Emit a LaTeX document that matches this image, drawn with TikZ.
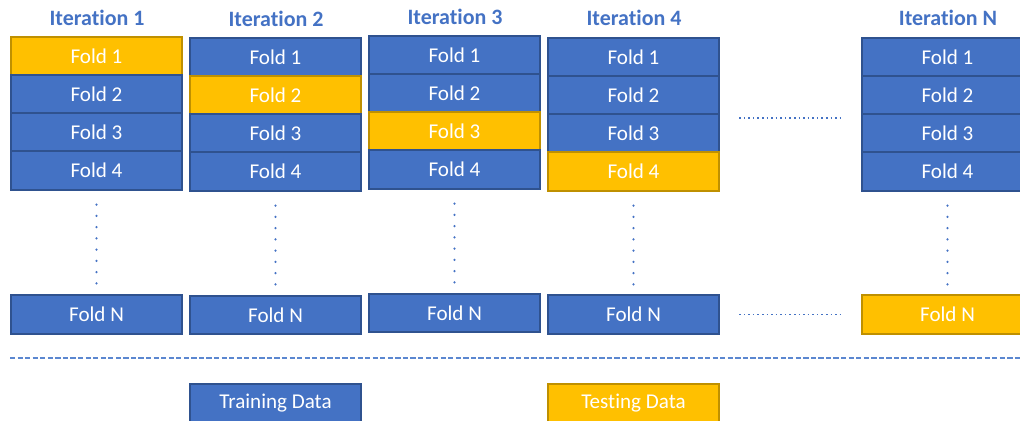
\documentclass[tikz,border=0pt]{standalone}
\usepackage{fontspec}
\setmainfont{Carlito}[Ligatures=NoCommon]
\definecolor{foldblue}{HTML}{4472C4}
\definecolor{foldedge}{HTML}{2F528F}
\definecolor{testyellow}{HTML}{FFC000}
\definecolor{testedge}{HTML}{BF9000}
\definecolor{sepblue}{HTML}{5B87D0}
\tikzset{
  fold/.style={draw=foldedge,fill=foldblue,text=white,line width=1pt,minimum width=3.42cm,minimum height=0.77cm,inner sep=0pt,font=\fontsize{12}{14}\selectfont},
  test/.style={fold,draw=testedge,fill=testyellow},
  iter/.style={text=foldblue,font=\bfseries\fontsize{12.5}{14}\selectfont},
  vdots/.style={draw=foldblue,line width=1.4pt,line cap=round,dash pattern=on 0pt off 6.4pt},
  hdots/.style={draw=foldblue,line width=0.9pt,dash pattern=on 0.9pt off 1.7pt},
}
\begin{document}
\begin{tikzpicture}[x=0.02cm,y=-0.02cm]
\useasboundingbox (0,0) rectangle (1020,421);
\node(t1) at (97,18) [iter] {Iteration 1};
\node(t2) at (276,19) [iter] {Iteration 2};
\node(t3) at (455,17) [iter] {Iteration 3};
\node(t4) at (634,18) [iter] {Iteration 4};
\node(tN) at (948,18) [iter] {Iteration N};
% iteration 1
\node(11) at (96.5,56) [test] {Fold 1};
\node(12) at (96.5,94) [fold] {Fold 2};
\node(13) at (96.5,132) [fold] {Fold 3};
\node(14) at (96.5,170.5) [fold] {Fold 4};
\node(1N) at (96.5,314.5) [fold] {Fold N};
% iteration 2
\node(21) at (275.5,57) [fold] {Fold 1};
\node(22) at (275.5,95) [test] {Fold 2};
\node(23) at (275.5,133) [fold] {Fold 3};
\node(24) at (275.5,171.5) [fold] {Fold 4};
\node(2N) at (275.5,315) [fold] {Fold N};
% iteration 3
\node(31) at (454.5,55) [fold] {Fold 1};
\node(32) at (454.5,93) [fold] {Fold 2};
\node(33) at (454.5,131) [test] {Fold 3};
\node(34) at (454.5,169.5) [fold] {Fold 4};
\node(3N) at (454.5,313) [fold] {Fold N};
% iteration 4
\node(41) at (633.5,57) [fold] {Fold 1};
\node(42) at (633.5,95) [fold] {Fold 2};
\node(43) at (633.5,133) [fold] {Fold 3};
\node(44) at (633.5,171.5) [test] {Fold 4};
\node(4N) at (633.5,314.5) [fold] {Fold N};
% iteration N
\node(N1) at (947.5,57) [fold] {Fold 1};
\node(N2) at (947.5,95) [fold] {Fold 2};
\node(N3) at (947.5,133) [fold] {Fold 3};
\node(N4) at (947.5,171.5) [fold] {Fold 4};
\node(NN) at (947.5,314.5) [test] {Fold N};
\draw[vdots,shorten <=8pt,shorten >=5pt] (14) -- (1N);
\draw[vdots,shorten <=8pt,shorten >=5pt] (24) -- (2N);
\draw[vdots,shorten <=8pt,shorten >=5pt] (34) -- (3N);
\draw[vdots,shorten <=8pt,shorten >=5pt] (44) -- (4N);
\draw[vdots,shorten <=8pt,shorten >=5pt] (N4) -- (NN);
\draw[hdots,shorten <=11pt,shorten >=11pt] ([yshift=-1.7pt]42.south east) -- ([yshift=-1.7pt]N2.south west);
\draw[hdots,shorten <=11pt,shorten >=11pt] (4N) -- (NN);
\coordinate(sepL) at (10,358);
\coordinate(sepR) at (1020,358);
\draw[sepblue,line width=0.8pt,dash pattern=on 3pt off 1.3pt] (sepL) -- (sepR);
\node(train) at (275.5,403) [fold] {Training Data};
\node(testing) at (633.5,403) [test] {Testing Data};
\end{tikzpicture}
\end{document}
